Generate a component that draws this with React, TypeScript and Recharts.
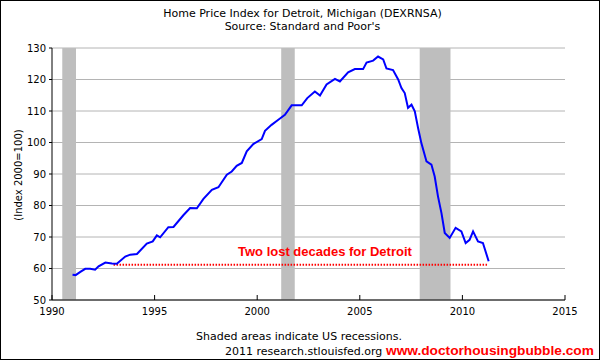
import {
  CartesianGrid,
  Line,
  LineChart,
  ReferenceArea,
  ReferenceLine,
  XAxis,
  YAxis,
} from "recharts";

// S&P/Case-Shiller Detroit home price index
const dates = [
  1991.0, 1991.15, 1991.4, 1991.62, 1991.86, 1992.1, 1992.27, 1992.6, 1992.92, 1993.16,
  1993.57, 1993.81, 1994.14, 1994.62, 1994.91, 1995.11, 1995.27, 1995.67, 1995.92, 1996.4,
  1996.73, 1997.06, 1997.38, 1997.79, 1998.11, 1998.52, 1998.76, 1999.0, 1999.25, 1999.49,
  1999.81, 2000.22, 2000.38, 2000.7, 2001.03, 2001.35, 2001.68, 2002.17, 2002.44, 2002.81,
  2003.06, 2003.38, 2003.79, 2004.03, 2004.43, 2004.76, 2005.16, 2005.33, 2005.65, 2005.89,
  2006.14, 2006.3, 2006.62, 2006.87, 2007.03, 2007.19, 2007.35, 2007.52, 2007.68, 2007.84,
  2008.0, 2008.25, 2008.49, 2008.65, 2008.81, 2008.98, 2009.14, 2009.38, 2009.67, 2009.95,
  2010.16, 2010.35, 2010.52, 2010.76, 2011.0, 2011.28,
];
const hpi = [
  58.0, 57.9, 59.0, 59.9, 59.9, 59.6, 60.7, 61.9, 61.6, 61.5,
  63.8, 64.4, 64.6, 67.9, 68.6, 70.5, 69.9, 73.1, 73.2, 76.9,
  79.2, 79.1, 82.1, 85.0, 85.8, 89.8, 90.8, 92.6, 93.5, 97.2,
  99.5, 101.1, 103.7, 105.6, 107.2, 108.8, 111.8, 111.8, 114.1, 116.2,
  114.9, 118.4, 120.2, 119.4, 122.3, 123.3, 123.3, 125.4, 126.0, 127.3,
  126.4, 123.5, 123.0, 120.0, 117.3, 115.7, 111.0, 112.0, 109.9, 104.6,
  99.8, 94.0, 93.0, 89.2, 82.9, 77.6, 71.3, 69.7, 72.9, 71.8,
  68.1, 69.1, 71.8, 68.6, 68.1, 62.3,
];

const recessionStarts = [1990.5, 2001.17, 2007.92];
const recessionEnds = [1991.17, 2001.83, 2009.42];

const xTicks = [1990, 1995, 2000, 2005, 2010, 2015];
const yTicks = [50, 60, 70, 80, 90, 100, 110, 120, 130];

const lostStart = 1993.0;
const lostEnd = 2011.2;
const lostLevel = 61.2;

const data = dates.map((d, i) => ({ date: d, hpi: hpi[i] }));

const tickStyle = { fontFamily: "DejaVu Sans", fontSize: 10, fill: "#000" };

export default function App() {
  return (
    <div style={{ position: "absolute", left: 0, top: 0, width: 600, height: 360, background: "#fff" }}>
      <LineChart width={600} height={360} data={data} margin={{ top: 48, right: 35, bottom: 30, left: 12 }}>
        <CartesianGrid horizontal vertical={false} stroke="#b4b4b4" strokeWidth={1} />
        {recessionStarts.map((s, i) => (
          <ReferenceArea
            key={s}
            x1={s}
            x2={recessionEnds[i]}
            y1={50}
            y2={130}
            fill="#bebebe"
            fillOpacity={1}
            stroke="none"
            ifOverflow="hidden"
          />
        ))}
        {/* FRED draws the x ticks inside the plot */}
        <XAxis
          dataKey="date"
          type="number"
          domain={[1990, 2015]}
          ticks={xTicks}
          tick={tickStyle}
          tickSize={-5}
          tickMargin={13}
          stroke="#000"
          height={30}
          allowDataOverflow
        />
        <YAxis
          type="number"
          domain={[50, 130]}
          ticks={yTicks}
          tick={tickStyle}
          tickSize={3}
          tickMargin={3}
          stroke="#000"
          width={40}
          interval={0}
        />
        <ReferenceLine
          segment={[
            { x: lostStart, y: lostLevel },
            { x: lostEnd, y: lostLevel },
          ]}
          stroke="#ff0000"
          strokeWidth={2}
          strokeDasharray="1.5 1.5"
        />
        <Line
          type="linear"
          dataKey="hpi"
          stroke="#0000ff"
          strokeWidth={2}
          dot={false}
          isAnimationActive={false}
        />
      </LineChart>

      <div
        style={{
          position: "absolute",
          top: 7,
          left: 0,
          width: 605,
          textAlign: "center",
          fontFamily: "DejaVu Sans",
          fontSize: 11,
          lineHeight: "13px",
          color: "#000",
        }}
      >
        Home Price Index for Detroit, Michigan (DEXRNSA)
        <br />
        Source: Standard and Poor's
      </div>

      <div
        style={{
          position: "absolute",
          left: 18,
          top: 175,
          transform: "translate(-50%, -50%) rotate(-90deg)",
          fontFamily: "DejaVu Sans",
          fontSize: 10,
          whiteSpace: "nowrap",
          color: "#000",
        }}
      >
        (Index 2000=100)
      </div>

      <div
        style={{
          position: "absolute",
          left: 238,
          top: 244,
          fontFamily: "Liberation Sans",
          fontWeight: "bold",
          fontSize: 13,
          color: "#ff0000",
          whiteSpace: "nowrap",
        }}
      >
        Two lost decades for Detroit
      </div>

      <div
        style={{
          position: "absolute",
          left: 196,
          top: 330,
          fontFamily: "DejaVu Sans",
          fontSize: 11,
          color: "#000",
          whiteSpace: "nowrap",
        }}
      >
        Shaded areas indicate US recessions.
      </div>
      <div
        style={{
          position: "absolute",
          left: 225,
          top: 345,
          fontFamily: "DejaVu Sans",
          fontSize: 11,
          color: "#000",
          whiteSpace: "nowrap",
        }}
      >
        2011 research.stlouisfed.org
      </div>
      <div
        style={{
          position: "absolute",
          left: 386,
          top: 343,
          fontFamily: "Liberation Sans",
          fontWeight: "bold",
          fontSize: 13.7,
          color: "#ff0000",
          whiteSpace: "nowrap",
        }}
      >
        www.doctorhousingbubble.com
      </div>

      <div
        style={{
          position: "absolute",
          inset: 0,
          border: "1px solid #000",
          boxSizing: "border-box",
          pointerEvents: "none",
        }}
      />
    </div>
  );
}
